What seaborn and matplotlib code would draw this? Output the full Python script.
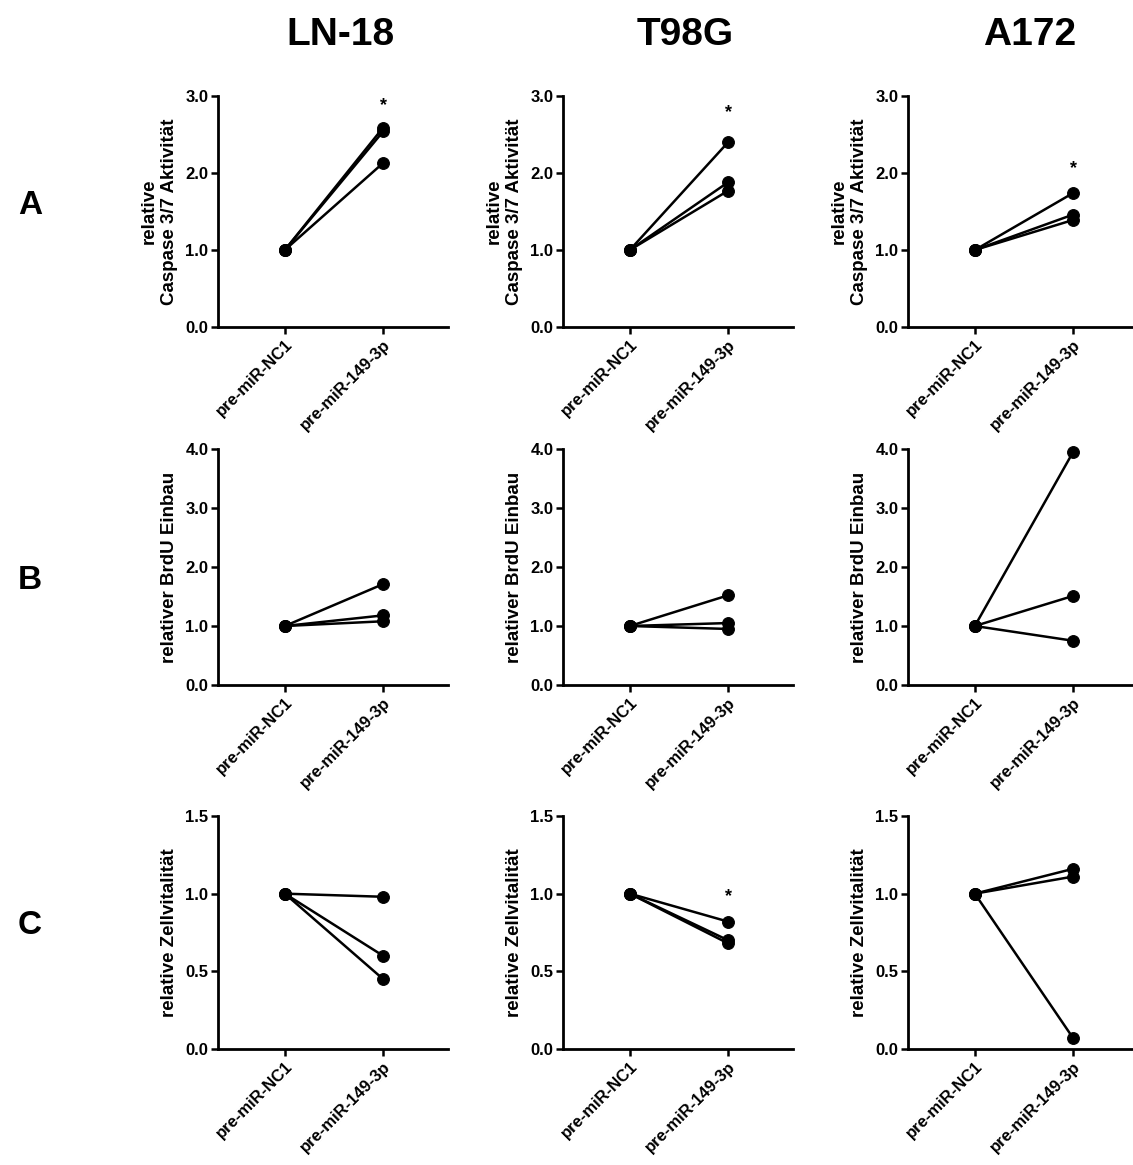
import matplotlib
matplotlib.use("Agg")
import matplotlib.pyplot as plt
import seaborn as sns
import pandas as pd
from matplotlib.ticker import FormatStrFormatter

# values
conds = ["pre-miR-NC1", "pre-miR-149-3p"]
cells = ["LN-18", "T98G", "A172"]
rows = ["A", "B", "C"]

caspase_ln18 = [2.59, 2.54, 2.13]
caspase_t98g = [2.40, 1.88, 1.77]
caspase_a172 = [1.74, 1.46, 1.39]

brdu_ln18 = [1.71, 1.18, 1.08]
brdu_t98g = [1.52, 1.05, 0.95]
brdu_a172 = [3.95, 1.51, 0.75]

vital_ln18 = [0.98, 0.60, 0.45]
vital_t98g = [0.82, 0.70, 0.68]
vital_a172 = [1.16, 1.11, 0.07]

# significance stars (row, col, y)
stars = [(0, 0, 2.88), (0, 1, 2.78), (0, 2, 2.06), (2, 1, 0.98)]

ylabels = ["relative\nCaspase 3/7 Aktivität", "relativer BrdU Einbau",
           "relative Zellvitalität"]
ymax = [3.0, 4.0, 1.5]
yticks = [[0, 1, 2, 3], [0, 1, 2, 3, 4], [0, 0.5, 1.0, 1.5]]

data = [[caspase_ln18, caspase_t98g, caspase_a172],
        [brdu_ln18, brdu_t98g, brdu_a172],
        [vital_ln18, vital_t98g, vital_a172]]

sns.set_style("ticks")
plt.rcParams['font.family'] = ['Liberation Sans', 'DejaVu Sans']
plt.rcParams['font.weight'] = 'bold'
for k in ['text.color', 'axes.labelcolor', 'xtick.color', 'ytick.color',
          'axes.edgecolor']:
    plt.rcParams[k] = 'black'

W, H = 1133, 1165
fig = plt.figure(figsize=(W / 100, H / 100), dpi=100)

lefts = [218, 563, 908]
tops = [96, 449, 816]
bottoms = [327, 685, 1049]
width = 230

for r in range(3):
    for c in range(3):
        ax = fig.add_axes([lefts[c] / W, 1 - bottoms[r] / H, width / W,
                           (bottoms[r] - tops[r]) / H])
        vals = data[r][c]
        df = pd.DataFrame({
            "cond": [conds[0]] * 3 + [conds[1]] * 3,
            "value": [1.0, 1.0, 1.0] + vals,
            "rep": [0, 1, 2, 0, 1, 2],
        })
        sns.lineplot(data=df, x="cond", y="value", units="rep", estimator=None,
                     color="black", marker="o", markersize=8.5, linewidth=1.8,
                     markeredgecolor="black", ax=ax, clip_on=False)
        ax.set_xlim(-0.68, 1.66)
        ax.set_ylim(0, ymax[r])
        ax.set_yticks(yticks[r])
        ax.yaxis.set_major_formatter(FormatStrFormatter("%.1f"))
        ax.set_xlabel("")
        ax.set_ylabel(ylabels[r], fontsize=13.5, fontweight="bold", labelpad=5,
                      linespacing=1.25)
        sns.despine(ax=ax)
        for s in ["left", "bottom"]:
            ax.spines[s].set_linewidth(2)
        ax.tick_params(width=1.8, length=5, labelsize=12, pad=2)
        plt.setp(ax.get_xticklabels(), rotation=45, ha="right",
                 rotation_mode="anchor", fontweight="bold")
        plt.setp(ax.get_yticklabels(), fontweight="bold")
        for (sr, sc, sy) in stars:
            if sr == r and sc == c:
                ax.text(1, sy, "*", ha="center", va="center", fontsize=13,
                        fontweight="bold")

for c, name in enumerate(cells):
    fig.text((lefts[c] + 122) / W, 1 - 35 / H, name, ha="center", va="center",
             fontsize=28, fontweight="bold")

row_y = [205, 580, 925]
for r, lab in enumerate(rows):
    fig.text(30 / W, 1 - row_y[r] / H, lab, ha="center", va="center",
             fontsize=24, fontweight="bold")

fig.savefig("out.png", dpi=100)
